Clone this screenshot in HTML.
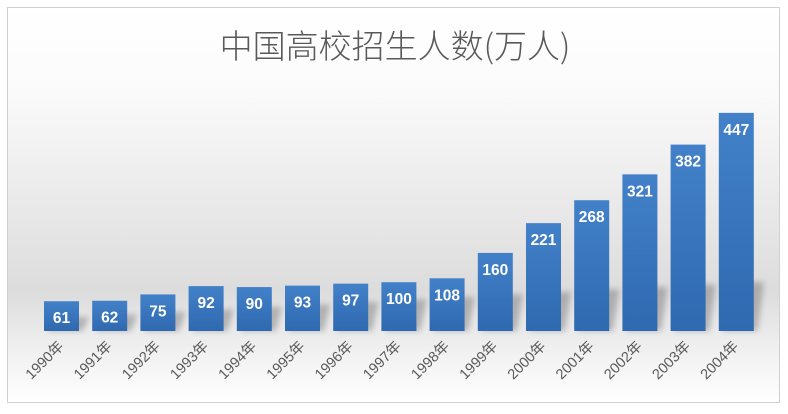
<!DOCTYPE html>
<html><head><meta charset="utf-8"><style>
html,body{margin:0;padding:0;background:#fff;width:788px;height:414px;overflow:hidden}
</style></head><body>
<svg width="788" height="414" xmlns="http://www.w3.org/2000/svg" font-family="Liberation Sans, Noto Sans CJK SC, sans-serif">
<defs>
<linearGradient id="bg" x1="0" y1="0" x2="0" y2="1">
<stop offset="0" stop-color="#ffffff"/>
<stop offset="0.2" stop-color="#fbfbfb"/>
<stop offset="0.72" stop-color="#dcdcdc"/>
<stop offset="0.85" stop-color="#eeeeee"/>
<stop offset="1" stop-color="#ffffff"/>
</linearGradient>
<linearGradient id="bar" x1="0" y1="0" x2="0" y2="1">
<stop offset="0" stop-color="#4281c9"/>
<stop offset="1" stop-color="#2f69b0"/>
</linearGradient>
<filter id="sh" x="-30%" y="-30%" width="160%" height="160%"><feGaussianBlur stdDeviation="3"/></filter>
</defs>
<rect x="7.5" y="7.5" width="772" height="395" fill="url(#bg)" stroke="#d0d0d0" stroke-width="1"/>
<text x="395" y="58" text-anchor="middle" font-size="33" fill="#595959" font-family="Noto Sans CJK SC, sans-serif" font-weight="300">中国高校招生人数(万人)</text>
<g id="bars"></g>
</svg>
<script>
var v=[61,62,75,92,90,93,97,100,108,160,221,268,321,382,447];
var g=document.getElementById('bars'),s='';
for(var i=0;i<v.length;i++){
 var x=44+i*48.2,h=v[i]*0.488,sh=Math.min(h-6,14+i*2.5);
 s+='<polygon points="'+(x+4)+',331 '+(x+39)+',331 '+(x+45)+','+(331-sh)+' '+(x+10)+','+(331-sh)+'" fill="#000" opacity="0.22" filter="url(#sh)"/>';
}
for(var i=0;i<v.length;i++){
 var x=44+i*48.2,h=v[i]*0.488,y=331-h,cx=x+17.5;
 s+='<rect x="'+x+'" y="'+y+'" width="35" height="'+h+'" fill="url(#bar)"/>';
 s+='<text x="'+cx+'" y="'+(y+22)+'" text-anchor="middle" font-size="15.5" font-weight="bold" fill="#fff">'+v[i]+'</text>';
 s+='<text transform="translate('+(cx+3)+',347) rotate(-45)" text-anchor="end" font-size="14.5" fill="#595959">'+(1990+i)+'年</text>';
}
g.innerHTML=s;
</script>
</body></html>
